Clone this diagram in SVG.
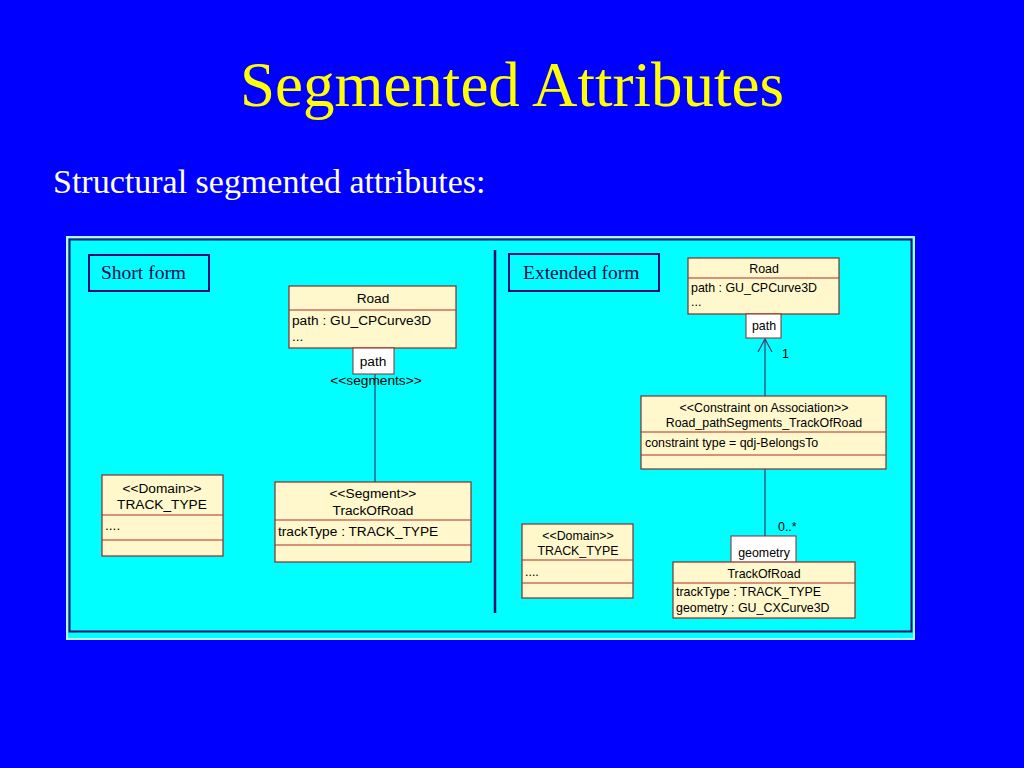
<svg xmlns="http://www.w3.org/2000/svg" width="1024" height="768" viewBox="0 0 1024 768">
<style>
.cls{fill:#fff8cc;stroke:#8a2a2a;stroke-width:1.2}
.div{stroke:#b02a2a;stroke-width:1}
.role{fill:#ffffff;stroke:#8a2a2a;stroke-width:1}
.t{font-family:"Liberation Sans",Arial,sans-serif;font-size:13.7px;fill:#000}
.ts{font-family:"Liberation Sans",Arial,sans-serif;font-size:12.4px;fill:#000}
.c{text-anchor:middle}
.lbl{fill:#00ffff;stroke:#0a0a80;stroke-width:2}
.lt{font-family:"Liberation Serif","Times New Roman",serif;font-size:19.5px;fill:#0a0a50}
.conn{stroke:#3a3a6a;stroke-width:1.2;fill:none}
</style>
<rect width="1024" height="768" fill="#0000ff"/>
<text x="512" y="106" text-anchor="middle" font-family="Liberation Serif,'Times New Roman',serif" font-size="63" fill="#ffff00">Segmented Attributes</text>
<text x="53" y="193" font-family="Liberation Serif,'Times New Roman',serif" font-size="34" fill="#ffffff">Structural segmented attributes:</text>
<g id="panel">
<rect x="67" y="237" width="847" height="402" fill="#00ffff" stroke="#b8f4ff" stroke-width="2"/>
<rect x="69.5" y="239.5" width="842" height="392" fill="none" stroke="#101070" stroke-width="2"/>
<line x1="495" y1="250" x2="495" y2="613" stroke="#101070" stroke-width="2.5"/>
</g>
<g id="short-form-label">
<rect class="lbl" x="89" y="255" width="120" height="36"/>
<text class="lt" x="101" y="279">Short form</text>
</g>
<g id="extended-form-label">
<rect class="lbl" x="509" y="254" width="150" height="37"/>
<text class="lt" x="523" y="279">Extended form</text>
</g>
<g id="connectors">
<line class="conn" x1="375" y1="374" x2="375" y2="482"/>
<line class="conn" x1="765" y1="396" x2="765" y2="339"/>
<polyline class="conn" points="758,352 765,339 772,352"/>
<line class="conn" x1="765" y1="469" x2="765" y2="536"/>
</g>
<g id="road-short">
<rect class="cls" x="289" y="286" width="167" height="62"/>
<line class="div" x1="289" y1="310" x2="456" y2="310"/>
<text class="t c" x="373" y="303">Road</text>
<text class="t" x="292" y="325">path : GU_CPCurve3D</text>
<text class="t" x="292" y="341">...</text>
<rect class="role" x="353" y="348" width="41" height="26"/>
<text class="t c" x="373" y="366">path</text>
<text class="t c" x="376" y="385">&lt;&lt;segments&gt;&gt;</text>
</g>
<g id="domain-short">
<rect class="cls" x="102" y="475" width="121" height="81"/>
<line class="div" x1="102" y1="515" x2="223" y2="515"/>
<line class="div" x1="102" y1="540" x2="223" y2="540"/>
<text class="t c" x="162" y="493">&lt;&lt;Domain&gt;&gt;</text>
<text class="t c" x="162" y="509">TRACK_TYPE</text>
<text class="t" x="105" y="530">....</text>
</g>
<g id="segment-short">
<rect class="cls" x="275" y="482" width="196" height="80"/>
<line class="div" x1="275" y1="520" x2="471" y2="520"/>
<line class="div" x1="275" y1="545" x2="471" y2="545"/>
<text class="t c" x="373" y="498">&lt;&lt;Segment&gt;&gt;</text>
<text class="t c" x="373" y="515">TrackOfRoad</text>
<text class="t" x="278" y="536">trackType : TRACK_TYPE</text>
</g>
<g id="road-ext">
<rect class="cls" x="688" y="258" width="151" height="56"/>
<line class="div" x1="688" y1="278" x2="839" y2="278"/>
<text class="ts c" x="764" y="273">Road</text>
<text class="ts" x="691" y="292">path : GU_CPCurve3D</text>
<text class="ts" x="691" y="306">...</text>
<rect class="role" x="746" y="314" width="35" height="24"/>
<text class="ts c" x="764" y="330">path</text>
<text class="ts" x="782" y="358">1</text>
</g>
<g id="constraint">
<rect class="cls" x="641" y="396" width="245" height="73"/>
<line class="div" x1="641" y1="432" x2="886" y2="432"/>
<line class="div" x1="641" y1="455" x2="886" y2="455"/>
<text class="ts c" x="764" y="412">&lt;&lt;Constraint on Association&gt;&gt;</text>
<text class="ts c" x="764" y="427">Road_pathSegments_TrackOfRoad</text>
<text class="ts" x="645" y="447">constraint type = qdj-BelongsTo</text>
</g>
<g id="domain-ext">
<rect class="cls" x="522" y="524" width="111" height="74"/>
<line class="div" x1="522" y1="560" x2="633" y2="560"/>
<line class="div" x1="522" y1="583" x2="633" y2="583"/>
<text class="ts c" x="578" y="540">&lt;&lt;Domain&gt;&gt;</text>
<text class="ts c" x="578" y="555">TRACK_TYPE</text>
<text class="ts" x="525" y="576">....</text>
</g>
<g id="track-ext">
<text class="ts" x="778" y="531">0..*</text>
<rect class="role" x="731" y="536" width="65" height="27"/>
<text class="ts c" x="764" y="557">geometry</text>
<rect class="cls" x="673" y="562" width="182" height="56"/>
<line class="div" x1="673" y1="583" x2="855" y2="583"/>
<text class="ts c" x="764" y="578">TrackOfRoad</text>
<text class="ts" x="676" y="596">trackType : TRACK_TYPE</text>
<text class="ts" x="676" y="612">geometry : GU_CXCurve3D</text>
</g>
</svg>
